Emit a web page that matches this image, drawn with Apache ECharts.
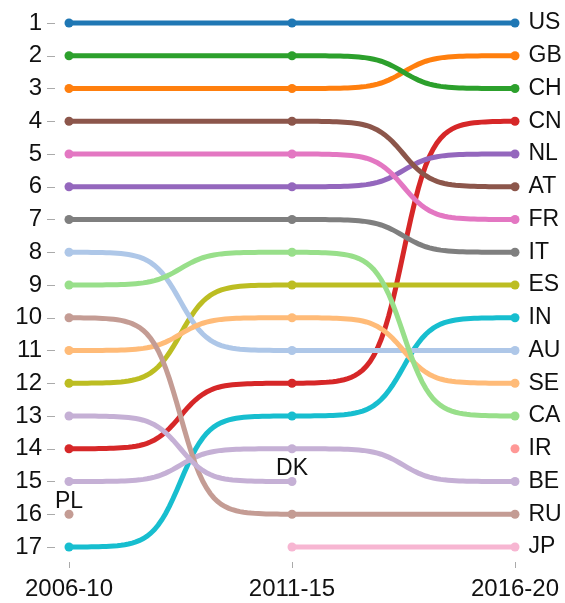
<!DOCTYPE html>
<html><head><meta charset="utf-8">
<script src="https://cdn.jsdelivr.net/npm/echarts@6/dist/echarts.min.js"></script>
<style>html,body{margin:0;padding:0;background:#fff}#c{width:565px;height:603px}</style>
</head><body><div id="c"></div>
<script>
// Periods (x categories)
const periods = ['2006-10', '2011-15', '2016-20'];
// Rank tick labels
const rankTicks = [1,2,3,4,5,6,7,8,9,10,11,12,13,14,15,16,17];
// Countries and their ranks per period (null = not ranked)
const countries = ['US','GB','CH','CN','NL','AT','FR','IT','ES','IN','AU','SE','CA','IR','BE','RU','JP','DK','PL'];
const US = [1, 1, 1];
const GB = [3, 3, 2];
const CH = [2, 2, 3];
const CN = [14, 12, 4];
const NL = [6, 6, 5];
const AT = [4, 4, 6];
const FR = [5, 5, 7];
const IT = [7, 7, 8];
const ES = [12, 9, 9];
const IN = [17, 13, 10];
const AU = [8, 11, 11];
const SE = [11, 10, 12];
const CA = [9, 8, 13];
const IR = [null, null, 14];
const BE = [15, 14, 15];
const RU = [10, 16, 16];
const JP = [null, 17, 17];
const DK = [13, 15, null];
const PL = [16, null, null];
const ranks = {US, GB, CH, CN, NL, AT, FR, IT, ES, IN, AU, SE, CA, IR, BE, RU, JP, DK, PL};
const colors = {
  US:'#1f77b4', GB:'#ff7f0e', CH:'#2ca02c', CN:'#d62728', NL:'#9467bd', AT:'#8c564b',
  FR:'#e377c2', IT:'#7f7f7f', ES:'#bcbd22', IN:'#17becf', AU:'#aec7e8', SE:'#ffbb78',
  CA:'#98df8a', IR:'#ff9896', BE:'#c5b0d5', RU:'#c49c94', JP:'#f7b6d2', DK:'#c5b0d5', PL:'#c49c94'
};

const FONT = "'Liberation Sans', Arial, sans-serif";
const chart = echarts.init(document.getElementById('c'));

function pts(code) {
  const out = [];
  ranks[code].forEach((r, i) => { if (r !== null) out.push([i, r]); });
  return out;
}

function sigmoid(s) {
  const k = 8;
  const a = 1 / (1 + Math.exp(k)), b = 1 / (1 + Math.exp(-k));
  const v = 1 / (1 + Math.exp(-(-k + 2 * k * s)));
  return (v - a) / (b - a);
}

const series = [];
// curves
countries.forEach(code => {
  const data = pts(code);
  series.push({
    type: 'custom',
    name: code + '-curve',
    data: data,
    z: 2,
    silent: true,
    encode: {x: 0, y: 1},
    renderItem: function (params, api) {
      const i = params.dataIndex;
      if (i >= data.length - 1) return null;
      const p0 = api.coord([api.value(0), api.value(1)]);
      const nx = data[i + 1];
      const p1 = api.coord([nx[0], nx[1]]);
      const points = [];
      const n = 60;
      for (let j = 0; j <= n; j++) {
        const s = j / n;
        points.push([p0[0] + (p1[0] - p0[0]) * s, p0[1] + (p1[1] - p0[1]) * sigmoid(s)]);
      }
      return {
        type: 'polyline',
        shape: {points: points},
        style: {stroke: colors[code], lineWidth: 5, fill: null, lineCap: 'round'}
      };
    }
  });
});
// dots + labels
countries.forEach(code => {
  const data = pts(code);
  const last = data.length - 1;
  series.push({
    type: 'scatter',
    name: code,
    symbolSize: 9,
    z: 3,
    silent: true,
    itemStyle: {color: colors[code], opacity: 1},
    data: data.map((d, idx) => {
      const item = {value: d};
      if (idx === last) {
        item.label = d[0] === 2
          ? {show: true, position: 'right', distance: 9, formatter: code, fontSize: 23, color: '#111', fontFamily: FONT}
          : {show: true, position: 'top', distance: -3, formatter: code, fontSize: 23, color: '#111', fontFamily: FONT};
      }
      return item;
    })
  });
});

chart.setOption({
  animation: false,
  backgroundColor: '#fff',
  grid: {left: 69, right: 50, top: 23, bottom: 56, containLabel: false},
  xAxis: {
    type: 'category',
    data: periods,
    boundaryGap: false,
    offset: 15,
    axisLine: {show: false},
    axisTick: {show: true, length: 6, lineStyle: {color: '#aaa'}},
    axisLabel: {fontSize: 24, color: '#111', fontFamily: FONT, margin: 15},
    splitLine: {show: false}
  },
  yAxis: {
    type: 'value',
    inverse: true,
    min: 1,
    max: 17,
    interval: 1,
    offset: 14,
    axisLine: {show: false},
    axisTick: {show: true, length: 8, lineStyle: {color: '#aaa'}},
    axisLabel: {fontSize: 24, color: '#111', fontFamily: FONT, margin: 13,
      formatter: v => rankTicks.includes(v) ? String(v) : ''},
    splitLine: {show: false}
  },
  series: series
});
</script></body></html>
